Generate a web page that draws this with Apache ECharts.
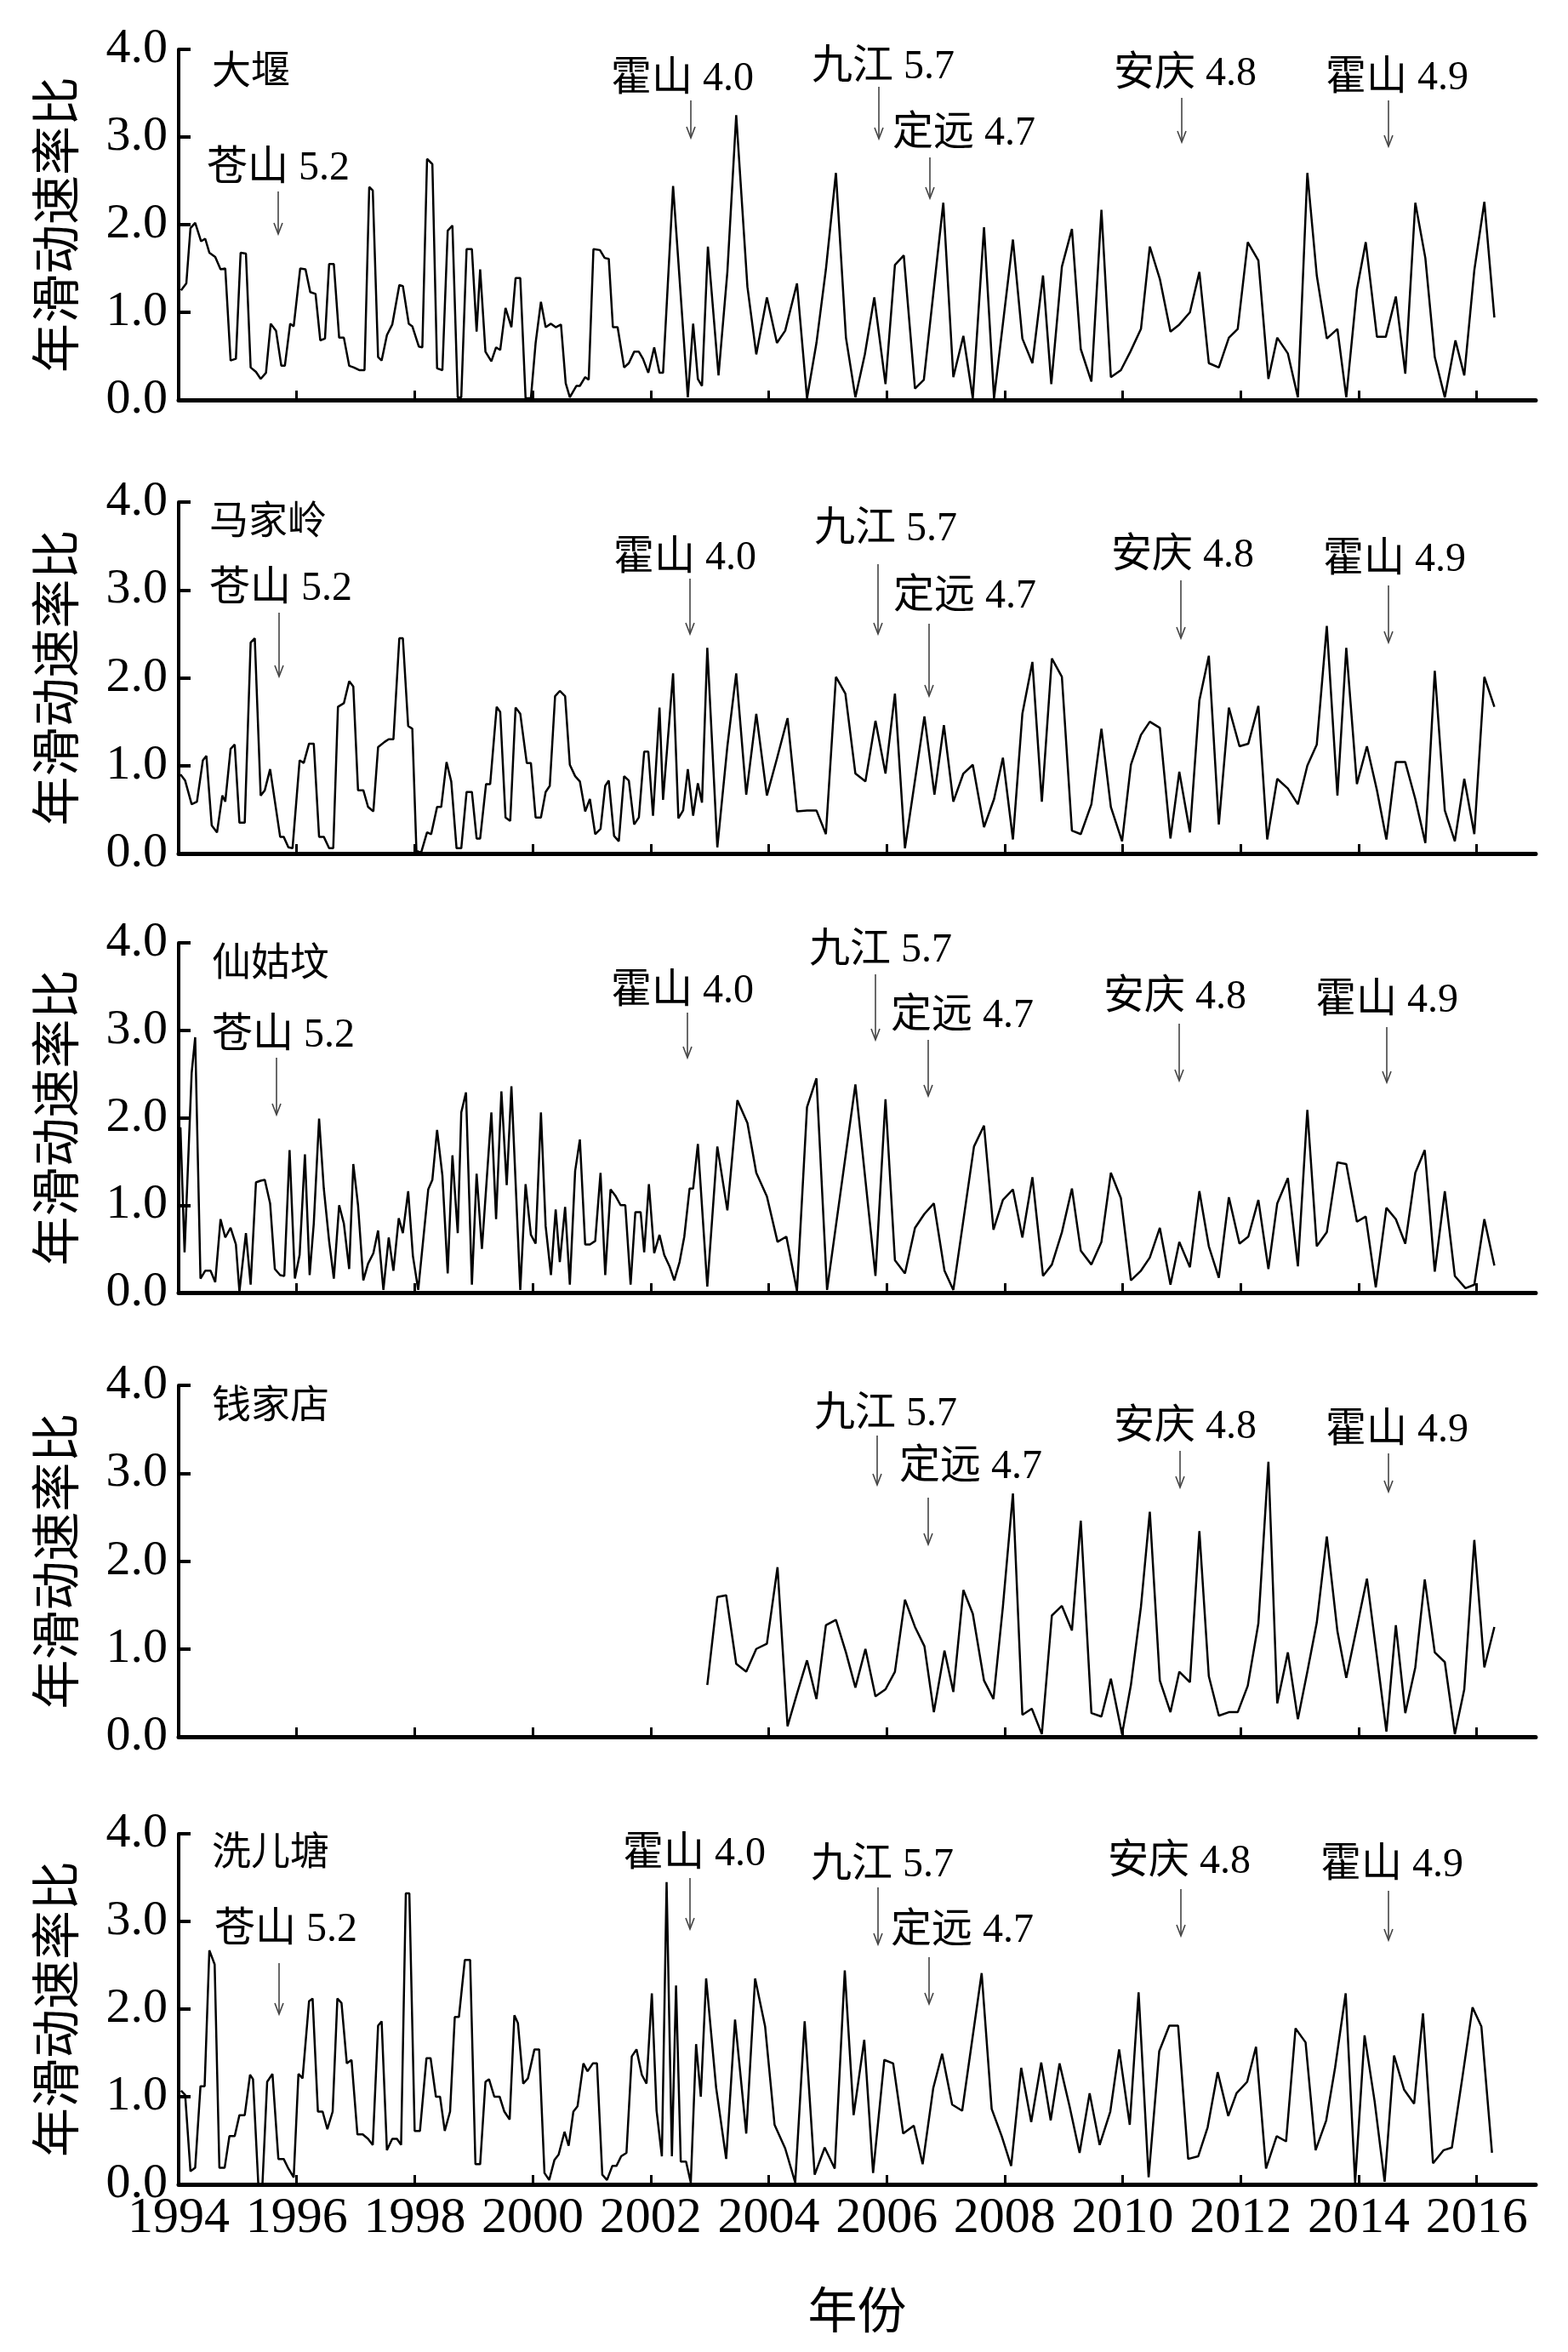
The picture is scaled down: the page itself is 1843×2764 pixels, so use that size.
<!DOCTYPE html>
<html><head><meta charset="utf-8">
<script src="https://cdn.jsdelivr.net/npm/echarts@6/dist/echarts.min.js"></script>
<style>html,body{margin:0;padding:0;background:#fff}#c{width:1843px;height:2764px}</style>
</head><body><div id="c"></div>
<script>
const yearTicks = [1994,1996,1998,2000,2002,2004,2006,2008,2010,2012,2014,2016];
const stationNames = ['大堰','马家岭','仙姑坟','钱家店','洗儿塘'];

const dayan = [[1994.04,1.25],[1994.13,1.33],[1994.20,1.96],[1994.28,2.02],[1994.38,1.81],[1994.45,1.84],[1994.52,1.68],[1994.62,1.63],[1994.71,1.49],[1994.79,1.50],
[1994.88,0.45],[1994.97,0.47],[1995.05,1.68],[1995.14,1.67],[1995.22,0.37],[1995.31,0.32],[1995.39,0.24],[1995.48,0.31],[1995.56,0.87],[1995.65,0.79],
[1995.74,0.39],[1995.80,0.39],[1995.89,0.87],[1995.95,0.84],[1996.06,1.50],[1996.15,1.49],[1996.23,1.23],[1996.32,1.21],[1996.40,0.68],[1996.48,0.70],
[1996.55,1.55],[1996.63,1.55],[1996.72,0.71],[1996.80,0.71],[1996.89,0.39],[1996.97,0.37],[1997.06,0.34],[1997.15,0.34],[1997.23,2.43],[1997.29,2.39],
[1997.38,0.49],[1997.44,0.45],[1997.53,0.74],[1997.62,0.86],[1997.74,1.31],[1997.80,1.30],[1997.90,0.87],[1997.96,0.84],[1998.07,0.61],[1998.13,0.60],
[1998.21,2.75],[1998.30,2.69],[1998.38,0.36],[1998.47,0.34],[1998.56,1.93],[1998.64,1.99],[1998.73,0.03],[1998.79,0.03],[1998.88,1.72],[1998.97,1.72],
[1999.05,0.78],[1999.11,1.49],[1999.20,0.55],[1999.30,0.44],[1999.38,0.60],[1999.45,0.57],[1999.54,1.05],[1999.64,0.83],[1999.71,1.39],[1999.79,1.39],
[1999.88,0.02],[1999.97,0.02],[2000.05,0.65],[2000.14,1.12],[2000.22,0.83],[2000.31,0.87],[2000.39,0.83],[2000.48,0.86],[2000.56,0.19],[2000.63,0.03],
[2000.74,0.16],[2000.80,0.16],[2000.89,0.26],[2000.95,0.23],[2001.03,1.72],[2001.14,1.71],[2001.22,1.62],[2001.29,1.61],[2001.36,0.83],[2001.44,0.83],
[2001.55,0.37],[2001.63,0.42],[2001.72,0.55],[2001.80,0.55],[2001.87,0.47],[2001.96,0.31],[2002.06,0.60],[2002.15,0.31],[2002.21,0.31],[2002.38,2.44],
[2002.63,0.03],[2002.72,0.87],[2002.80,0.24],[2002.87,0.16],[2002.97,1.75],[2003.15,0.28],[2003.30,1.46],[2003.45,3.25],[2003.64,1.29],[2003.79,0.52],
[2003.97,1.17],[2004.14,0.65],[2004.28,0.79],[2004.48,1.33],[2004.65,0.02],[2004.81,0.65],[2004.97,1.49],[2005.14,2.59],[2005.31,0.71],[2005.47,0.03],
[2005.63,0.52],[2005.79,1.17],[2005.98,0.18],[2006.14,1.54],[2006.29,1.65],[2006.48,0.13],[2006.63,0.23],[2006.96,2.25],[2007.13,0.26],[2007.30,0.73],
[2007.46,0.02],[2007.65,1.97],[2007.82,0.02],[2008.14,1.83],[2008.30,0.70],[2008.47,0.42],[2008.65,1.42],[2008.79,0.18],[2008.97,1.52],[2009.14,1.95],
[2009.29,0.58],[2009.47,0.21],[2009.64,2.17],[2009.80,0.26],[2009.97,0.34],[2010.13,0.55],[2010.31,0.81],[2010.46,1.75],[2010.63,1.38],[2010.81,0.78],
[2010.96,0.86],[2011.14,1.00],[2011.30,1.46],[2011.46,0.42],[2011.63,0.37],[2011.80,0.71],[2011.95,0.81],[2012.12,1.80],[2012.30,1.59],[2012.47,0.24],
[2012.62,0.71],[2012.80,0.53],[2012.97,0.03],[2013.13,2.59],[2013.29,1.42],[2013.46,0.70],[2013.64,0.81],[2013.79,0.03],[2013.97,1.26],[2014.12,1.80],
[2014.31,0.72],[2014.46,0.72],[2014.63,1.18],[2014.79,0.30],[2014.96,2.25],[2015.13,1.62],[2015.29,0.49],[2015.46,0.03],[2015.64,0.68],[2015.79,0.28],
[2015.96,1.48],[2016.13,2.26],[2016.30,0.94]];

const majialing = [[1994.03,0.90],[1994.11,0.83],[1994.22,0.56],[1994.31,0.59],[1994.41,1.06],[1994.47,1.11],[1994.56,0.32],[1994.65,0.24],[1994.74,0.66],[1994.79,0.59],
[1994.88,1.19],[1994.95,1.24],[1995.03,0.35],[1995.12,0.35],[1995.22,2.40],[1995.29,2.45],[1995.39,0.66],[1995.46,0.72],[1995.55,0.96],[1995.72,0.19],
[1995.78,0.19],[1995.86,0.07],[1995.93,0.06],[1996.05,1.06],[1996.12,1.03],[1996.21,1.25],[1996.29,1.25],[1996.38,0.19],[1996.46,0.19],[1996.55,0.06],
[1996.62,0.06],[1996.70,1.67],[1996.80,1.71],[1996.89,1.96],[1996.96,1.90],[1997.04,0.72],[1997.13,0.72],[1997.21,0.53],[1997.30,0.48],[1997.38,1.21],
[1997.49,1.27],[1997.56,1.30],[1997.64,1.30],[1997.74,2.45],[1997.80,2.45],[1997.89,1.45],[1997.96,1.42],[1998.03,0.03],[1998.11,0.01],[1998.21,0.24],
[1998.28,0.22],[1998.38,0.53],[1998.45,0.53],[1998.54,1.04],[1998.62,0.82],[1998.71,0.06],[1998.79,0.06],[1998.88,0.70],[1998.97,0.70],[1999.05,0.17],
[1999.11,0.17],[1999.21,0.79],[1999.28,0.79],[1999.39,1.67],[1999.45,1.61],[1999.54,0.41],[1999.62,0.37],[1999.71,1.66],[1999.79,1.59],[1999.90,1.03],
[1999.97,1.03],[2000.05,0.41],[2000.14,0.41],[2000.22,0.70],[2000.29,0.77],[2000.38,1.79],[2000.46,1.85],[2000.55,1.79],[2000.63,1.01],[2000.72,0.88],
[2000.80,0.82],[2000.89,0.48],[2000.97,0.62],[2001.06,0.22],[2001.15,0.28],[2001.23,0.77],[2001.29,0.83],[2001.38,0.20],[2001.46,0.14],[2001.55,0.88],
[2001.63,0.83],[2001.72,0.33],[2001.80,0.41],[2001.89,1.16],[2001.96,1.16],[2002.04,0.43],[2002.15,1.66],[2002.21,0.61],[2002.38,2.05],[2002.47,0.40],
[2002.55,0.49],[2002.63,0.96],[2002.72,0.43],[2002.80,0.80],[2002.87,0.58],[2002.96,2.34],[2003.13,0.07],[2003.30,1.22],[2003.45,2.05],[2003.62,0.67],
[2003.79,1.59],[2003.97,0.66],[2004.14,1.08],[2004.32,1.54],[2004.48,0.48],[2004.65,0.49],[2004.81,0.49],[2004.97,0.22],[2005.14,2.01],[2005.30,1.82],
[2005.47,0.91],[2005.64,0.82],[2005.81,1.51],[2005.98,0.91],[2006.14,1.82],[2006.31,0.06],[2006.64,1.56],[2006.81,0.67],[2006.97,1.46],[2007.13,0.59],
[2007.30,0.91],[2007.46,1.01],[2007.65,0.30],[2007.82,0.62],[2007.97,1.09],[2008.14,0.16],[2008.30,1.59],[2008.47,2.18],[2008.63,0.59],[2008.80,2.22],
[2008.97,2.01],[2009.14,0.26],[2009.29,0.22],[2009.47,0.56],[2009.64,1.42],[2009.80,0.53],[2009.99,0.14],[2010.14,1.01],[2010.31,1.35],[2010.46,1.50],
[2010.63,1.43],[2010.81,0.17],[2010.96,0.93],[2011.14,0.24],[2011.30,1.74],[2011.46,2.25],[2011.63,0.33],[2011.80,1.66],[2011.98,1.22],[2012.13,1.25],
[2012.30,1.68],[2012.45,0.16],[2012.62,0.85],[2012.80,0.74],[2012.97,0.56],[2013.13,1.00],[2013.29,1.24],[2013.46,2.59],[2013.64,0.66],[2013.79,2.34],
[2013.97,0.79],[2014.14,1.22],[2014.31,0.72],[2014.47,0.16],[2014.63,1.04],[2014.79,1.04],[2014.96,0.62],[2015.13,0.12],[2015.29,2.08],[2015.46,0.49],
[2015.63,0.14],[2015.79,0.85],[2015.96,0.22],[2016.13,2.01],[2016.30,1.67]];

const xianguyuan = [[1994.03,1.89],[1994.10,0.46],[1994.22,2.51],[1994.28,2.92],[1994.37,0.16],[1994.45,0.25],[1994.54,0.25],[1994.62,0.12],[1994.71,0.84],[1994.79,0.63],
[1994.88,0.74],[1994.97,0.55],[1995.03,0.01],[1995.14,0.68],[1995.22,0.09],[1995.31,1.26],[1995.39,1.28],[1995.46,1.29],[1995.55,1.02],[1995.63,0.27],
[1995.72,0.20],[1995.79,0.19],[1995.88,1.63],[1995.97,0.16],[1996.05,0.43],[1996.14,1.58],[1996.22,0.20],[1996.29,0.79],[1996.38,1.99],[1996.46,1.19],
[1996.55,0.59],[1996.63,0.16],[1996.72,1.00],[1996.80,0.79],[1996.89,0.27],[1996.96,1.47],[1997.04,1.00],[1997.13,0.14],[1997.21,0.33],[1997.30,0.45],
[1997.38,0.71],[1997.47,0.03],[1997.56,0.63],[1997.64,0.25],[1997.73,0.85],[1997.80,0.68],[1997.89,1.16],[1997.97,0.42],[1998.06,0.03],[1998.23,1.18],
[1998.30,1.29],[1998.38,1.86],[1998.47,1.34],[1998.56,0.22],[1998.64,1.57],[1998.73,0.68],[1998.79,2.06],[1998.87,2.29],[1998.97,0.09],[1999.05,1.36],
[1999.14,0.50],[1999.30,2.06],[1999.38,0.84],[1999.47,2.30],[1999.56,1.23],[1999.64,2.36],[1999.79,0.03],[1999.88,1.24],[1999.97,0.66],[2000.05,0.56],
[2000.14,2.06],[2000.22,0.76],[2000.31,0.20],[2000.39,0.95],[2000.46,0.35],[2000.55,0.98],[2000.63,0.09],[2000.72,1.39],[2000.80,1.75],[2000.89,0.55],
[2000.97,0.55],[2001.06,0.59],[2001.15,1.37],[2001.23,0.20],[2001.32,1.18],[2001.40,1.11],[2001.49,1.00],[2001.57,1.00],[2001.66,0.09],[2001.74,0.92],
[2001.83,0.92],[2001.89,0.46],[2001.97,1.24],[2002.06,0.45],[2002.15,0.66],[2002.23,0.43],[2002.32,0.30],[2002.40,0.14],[2002.49,0.35],[2002.57,0.64],
[2002.66,1.19],[2002.72,1.19],[2002.80,1.70],[2002.96,0.07],[2003.13,1.67],[2003.30,0.94],[2003.47,2.20],[2003.64,1.94],[2003.79,1.37],[2003.97,1.10],
[2004.15,0.58],[2004.30,0.64],[2004.48,0.02],[2004.65,2.12],[2004.81,2.45],[2004.99,0.03],[2005.47,2.38],[2005.81,0.19],[2005.98,2.21],[2006.14,0.37],
[2006.31,0.22],[2006.48,0.74],[2006.64,0.90],[2006.80,1.02],[2006.98,0.25],[2007.13,0.03],[2007.48,1.67],[2007.65,1.91],[2007.81,0.72],[2007.97,1.06],
[2008.14,1.18],[2008.30,0.63],[2008.47,1.32],[2008.65,0.19],[2008.80,0.32],[2008.97,0.69],[2009.14,1.19],[2009.29,0.48],[2009.47,0.32],[2009.64,0.58],
[2009.80,1.37],[2009.97,1.08],[2010.14,0.14],[2010.31,0.25],[2010.46,0.40],[2010.63,0.74],[2010.81,0.09],[2010.96,0.58],[2011.14,0.29],[2011.30,1.16],
[2011.46,0.53],[2011.63,0.17],[2011.80,1.09],[2011.98,0.56],[2012.13,0.64],[2012.30,1.06],[2012.47,0.27],[2012.62,1.02],[2012.80,1.31],[2012.97,0.30],
[2013.13,2.09],[2013.29,0.53],[2013.46,0.69],[2013.64,1.49],[2013.79,1.47],[2013.97,0.81],[2014.12,0.87],[2014.29,0.06],[2014.47,0.97],[2014.63,0.84],
[2014.79,0.56],[2014.96,1.37],[2015.12,1.63],[2015.29,0.24],[2015.46,1.16],[2015.63,0.19],[2015.81,0.05],[2015.96,0.09],[2016.13,0.84],[2016.30,0.31]];

const qianjiadian = [[2002.96,0.59],[2003.13,1.59],[2003.28,1.61],[2003.45,0.83],[2003.62,0.74],[2003.79,1.00],[2003.97,1.06],[2004.15,1.93],[2004.32,0.12],[2004.48,0.49],
[2004.65,0.87],[2004.81,0.43],[2004.97,1.27],[2005.14,1.33],[2005.31,0.96],[2005.47,0.56],[2005.64,1.00],[2005.81,0.46],[2005.98,0.54],[2006.14,0.74],
[2006.31,1.56],[2006.48,1.25],[2006.64,1.03],[2006.80,0.28],[2006.98,0.98],[2007.13,0.51],[2007.30,1.67],[2007.46,1.40],[2007.65,0.64],[2007.81,0.43],
[2007.97,1.48],[2008.14,2.77],[2008.30,0.25],[2008.46,0.32],[2008.63,0.03],[2008.80,1.38],[2008.97,1.49],[2009.14,1.21],[2009.29,2.46],[2009.47,0.27],
[2009.64,0.23],[2009.80,0.66],[2009.99,0.03],[2010.14,0.59],[2010.31,1.48],[2010.46,2.56],[2010.63,0.64],[2010.81,0.28],[2010.96,0.74],[2011.14,0.62],
[2011.30,2.34],[2011.46,0.69],[2011.63,0.24],[2011.80,0.28],[2011.95,0.28],[2012.12,0.58],[2012.30,1.29],[2012.47,3.13],[2012.62,0.38],[2012.80,0.96],
[2012.97,0.20],[2013.13,0.74],[2013.29,1.30],[2013.46,2.28],[2013.64,1.20],[2013.79,0.67],[2013.97,1.25],[2014.14,1.80],[2014.31,0.91],[2014.47,0.06],
[2014.63,1.27],[2014.79,0.27],[2014.96,0.79],[2015.12,1.79],[2015.29,0.96],[2015.46,0.85],[2015.63,0.03],[2015.79,0.54],[2015.96,2.24],[2016.13,0.79],
[2016.30,1.25]];

const xiertang = [[1994.04,1.07],[1994.11,1.02],[1994.20,0.15],[1994.28,0.19],[1994.37,1.12],[1994.44,1.12],[1994.52,2.67],[1994.61,2.51],[1994.69,0.19],[1994.78,0.19],
[1994.86,0.55],[1994.95,0.55],[1995.03,0.79],[1995.12,0.79],[1995.21,1.25],[1995.26,1.20],[1995.35,0.00],[1995.42,0.00],[1995.50,1.17],[1995.59,1.26],
[1995.69,0.29],[1995.78,0.29],[1995.86,0.18],[1995.95,0.08],[1996.03,1.26],[1996.10,1.21],[1996.21,2.09],[1996.27,2.12],[1996.36,0.83],[1996.44,0.83],
[1996.52,0.63],[1996.61,0.83],[1996.69,2.12],[1996.76,2.07],[1996.85,1.38],[1996.93,1.42],[1997.03,0.57],[1997.12,0.57],[1997.21,0.52],[1997.29,0.45],
[1997.38,1.81],[1997.44,1.86],[1997.53,0.39],[1997.62,0.52],[1997.70,0.52],[1997.77,0.45],[1997.85,3.32],[1997.91,3.32],[1998.00,0.61],[1998.09,0.61],
[1998.20,1.44],[1998.27,1.44],[1998.36,1.00],[1998.43,1.00],[1998.51,0.61],[1998.60,0.83],[1998.68,1.91],[1998.75,1.91],[1998.85,2.56],[1998.94,2.56],
[1999.03,0.23],[1999.11,0.23],[1999.20,1.17],[1999.26,1.20],[1999.35,1.00],[1999.44,1.00],[1999.52,0.83],[1999.61,0.74],[1999.69,1.93],[1999.75,1.84],
[1999.84,1.15],[1999.92,1.21],[2000.03,1.54],[2000.11,1.54],[2000.20,0.13],[2000.28,0.05],[2000.37,0.28],[2000.44,0.34],[2000.54,0.60],[2000.61,0.44],
[2000.69,0.83],[2000.76,0.89],[2000.86,1.38],[2000.93,1.29],[2001.02,1.38],[2001.09,1.38],[2001.18,0.11],[2001.26,0.05],[2001.35,0.21],[2001.42,0.21],
[2001.50,0.32],[2001.59,0.36],[2001.68,1.46],[2001.76,1.54],[2001.85,1.25],[2001.93,1.15],[2002.02,2.18],[2002.10,0.84],[2002.19,0.32],[2002.27,3.45],
[2002.36,0.32],[2002.43,2.27],[2002.51,0.26],[2002.60,0.26],[2002.68,0.02],[2002.77,1.60],[2002.85,1.00],[2002.94,2.35],[2003.11,1.10],[2003.28,0.29],
[2003.43,1.88],[2003.62,0.58],[2003.77,2.35],[2003.94,1.80],[2004.10,0.68],[2004.28,0.41],[2004.45,0.02],[2004.61,1.86],[2004.78,0.11],[2004.95,0.42],
[2005.12,0.18],[2005.29,2.44],[2005.44,0.79],[2005.62,1.65],[2005.77,0.13],[2005.96,1.42],[2006.11,1.38],[2006.28,0.58],[2006.46,0.67],[2006.61,0.23],
[2006.79,1.10],[2006.94,1.49],[2007.11,0.91],[2007.28,0.84],[2007.61,2.41],[2007.78,0.86],[2007.95,0.55],[2008.11,0.21],[2008.28,1.33],[2008.45,0.71],
[2008.62,1.39],[2008.78,0.73],[2008.93,1.38],[2009.10,0.89],[2009.27,0.36],[2009.44,1.04],[2009.61,0.45],[2009.79,0.83],[2009.94,1.54],[2010.12,0.68],
[2010.27,2.19],[2010.44,0.08],[2010.62,1.52],[2010.79,1.81],[2010.94,1.81],[2011.11,0.29],[2011.28,0.32],[2011.44,0.65],[2011.61,1.28],[2011.79,0.78],
[2011.93,1.04],[2012.11,1.17],[2012.26,1.57],[2012.43,0.18],[2012.61,0.55],[2012.77,0.49],[2012.93,1.78],[2013.10,1.62],[2013.27,0.39],[2013.45,0.73],
[2013.60,1.33],[2013.78,2.18],[2013.94,0.02],[2014.10,1.70],[2014.27,0.95],[2014.44,0.03],[2014.60,1.47],[2014.77,1.08],[2014.94,0.92],[2015.09,1.95],
[2015.26,0.24],[2015.44,0.39],[2015.58,0.42],[2015.76,1.23],[2015.93,2.02],[2016.08,1.80],[2016.26,0.36]];

const seriesData = [dayan, majialing, xianguyuan, qianjiadian, xiertang];

// layout (pixels)
const grids = [
  {top: 58, height: 412},
  {top: 590, height: 413},
  {top: 1108, height: 411},
  {top: 1628, height: 413},
  {top: 2155, height: 412}
];
// annotation layout: [text, left, centerY, arrowX, arrowY1, arrowY2]
const notes = [
  ['大堰',249,86],['苍山 5.2',243,198,327,225,275],['霍山 4.0',718,93,812,118,162],['九江 5.7',954,79,1033,102,163],['定远 4.7',1049,157,1093,185,233],['安庆 4.8',1309,87,1389,115,167],['霍山 4.9',1558,92,1632,118,172],
  ['马家岭',246,615],['苍山 5.2',246,692,328,720,795],['霍山 4.0',721,656,811,680,745],['九江 5.7',957,622,1032,663,745],['定远 4.7',1050,701,1092,733,818],['安庆 4.8',1306,653,1388,682,750],['霍山 4.9',1555,658,1632,688,755],
  ['仙姑坟',249,1134],['苍山 5.2',249,1217,325,1243,1310],['霍山 4.0',718,1165,808,1190,1243],['九江 5.7',951,1117,1029,1145,1222],['定远 4.7',1047,1194,1091,1222,1288],['安庆 4.8',1297,1172,1386,1203,1270],['霍山 4.9',1546,1176,1630,1207,1272],
  ['钱家店',249,1654],['九江 5.7',957,1662,1031,1687,1745],['定远 4.7',1057,1724,1091,1760,1815],['安庆 4.8',1309,1677,1387,1705,1748],['霍山 4.9',1558,1681,1632,1708,1753],
  ['洗儿塘',249,2179],['苍山 5.2',252,2268,328,2307,2367],['霍山 4.0',732,2179,811,2207,2267],['九江 5.7',953,2192,1032,2218,2285],['定远 4.7',1047,2269,1092,2300,2355],['安庆 4.8',1302,2188,1388,2220,2275],['霍山 4.9',1552,2192,1632,2222,2280]
];

const serif = "'Liberation Serif','Noto Sans CJK SC'";
const cjk = "'Noto Sans CJK SC'";

const option = {
  backgroundColor: '#fff',
  animation: false,
  grid: grids.map(g => ({left: 210, right: 38, top: g.top, height: g.height, containLabel: false})),
  xAxis: grids.map((g, i) => ({
    type: 'value', gridIndex: i, min: 1994, max: 2017,
    splitLine: {show: false},
    axisLine: {lineStyle: {color: '#000', width: 5}},
    axisTick: {show: true, inside: true, length: 11, lineStyle: {color: '#000', width: 3}, customValues: yearTicks},
    axisLabel: {show: i === 4, customValues: yearTicks, color: '#000', fontFamily: 'Liberation Serif', fontSize: 60, margin: 10,
      formatter: v => String(Math.round(v))},
    name: i === 4 ? '年份' : '', nameLocation: 'middle', nameGap: 118,
    nameTextStyle: {color: '#000', fontFamily: cjk, fontSize: 58}
  })),
  yAxis: grids.map((g, i) => ({
    type: 'value', gridIndex: i, min: 0, max: 4, interval: 1,
    splitLine: {show: false},
    axisLine: {show: true, lineStyle: {color: '#000', width: 4}},
    axisTick: {show: true, inside: true, length: 14, lineStyle: {color: '#000', width: 4}},
    axisLabel: {color: '#000', fontFamily: 'Liberation Serif', fontSize: 58, margin: 13, formatter: v => v.toFixed(1)},
    name: '年滑动速率比', nameLocation: 'middle', nameGap: 116,
    nameTextStyle: {color: '#000', fontFamily: cjk, fontSize: 58}
  })),
  series: seriesData.map((d, i) => ({
    type: 'line', xAxisIndex: i, yAxisIndex: i, data: d, name: stationNames[i],
    showSymbol: false, symbol: 'none',
    lineStyle: {color: '#000', width: 2.5}
  }))
};

const graphics = [];
notes.forEach(n => {
  graphics.push({type: 'text', x: n[1], y: n[2], silent: true,
    style: {text: n[0], font: (n.length > 3 ? '48px ' : '46px ') + serif, fill: '#000', align: 'left', verticalAlign: 'middle'}});
  if (n.length > 3) {
    const x = n[3], y1 = n[4], y2 = n[5];
    graphics.push({type: 'line', silent: true, shape: {x1: x, y1: y1, x2: x, y2: y2}, style: {stroke: '#444', lineWidth: 1.6}});
    graphics.push({type: 'polyline', silent: true, shape: {points: [[x - 5, y2 - 13], [x, y2], [x + 5, y2 - 13]]}, style: {stroke: '#444', lineWidth: 1.6, fill: null}});
  }
});
option.graphic = graphics;

const chart = echarts.init(document.getElementById('c'), null, {renderer: 'canvas'});
chart.setOption(option);
</script>
</body></html>
